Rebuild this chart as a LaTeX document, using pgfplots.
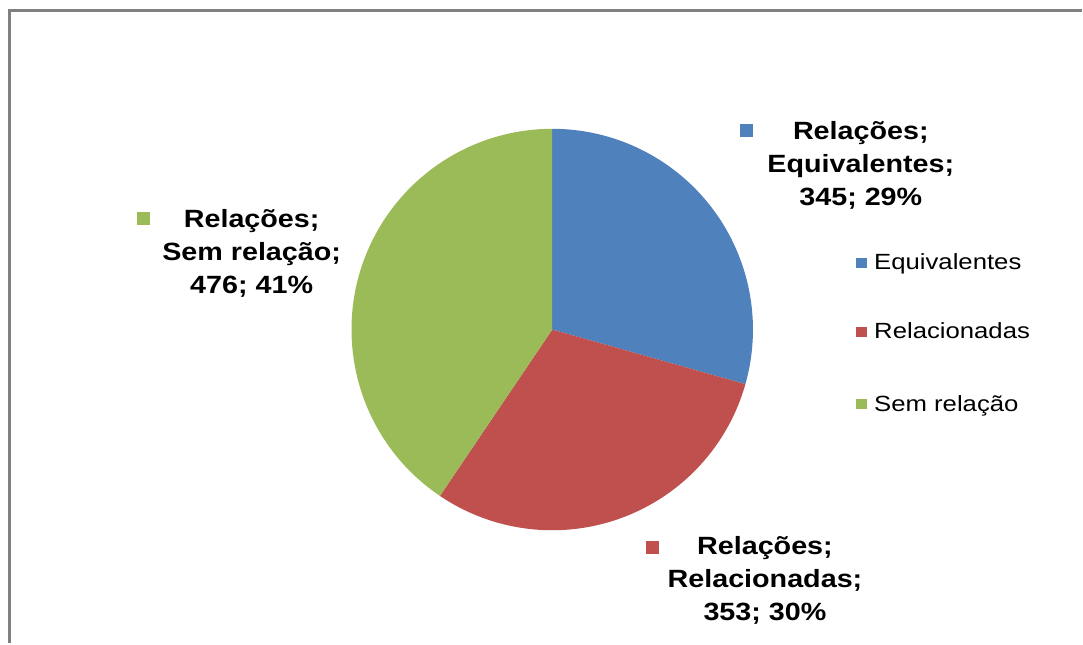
\documentclass[border=0pt]{standalone}
\usepackage{pgfplots}
\usepackage{pgfplotstable}
\usepackage{fontspec}
\pgfplotsset{compat=1.18}
\setmainfont{Liberation Sans}
\newfontfamily\lbl{Liberation Sans}[FakeStretch=1.15]
\newfontfamily\lgd{Liberation Sans}[FakeStretch=1.17]
\definecolor{cEq}{HTML}{4F81BD}
\definecolor{cRe}{HTML}{C0504D}
\definecolor{cSe}{HTML}{9BBB59}
\definecolor{frame}{HTML}{808080}

\pgfplotstableread[col sep=comma]{
label,value
Equivalentes,345
Relacionadas,353
Sem relação,476
}\piedata

\begin{document}
\begin{tikzpicture}
\pgfplotstablegetelem{0}{value}\of\piedata \let\va\pgfplotsretval
\pgfplotstablegetelem{1}{value}\of\piedata \let\vb\pgfplotsretval
\pgfplotstablegetelem{2}{value}\of\piedata \let\vc\pgfplotsretval
\pgfmathsetmacro\tot{\va+\vb+\vc}
\pgfmathsetmacro\aA{90-360*(\va/\tot)}
\pgfmathsetmacro\aB{\aA-360*(\vb/\tot)}
\def\R{100.5pt}
\begin{axis}[
  scale only axis, width=541.5pt, height=322pt,
  xmin=0, xmax=1083, ymin=0, ymax=644, y dir=reverse,
  axis lines=none, clip=false,
]
\fill[white] (axis cs:0,0) rectangle (axis cs:1083,644);
\draw[frame, line width=1.5pt] (axis cs:9.5,644) -- (axis cs:9.5,11) -- (axis cs:1083,11);
% pie
\fill[cEq] (axis cs:553,330) -- ++(90:\R) arc[start angle=90, end angle=\aA, radius=\R] -- cycle;
\fill[cRe] (axis cs:553,330) -- ++(\aA:\R) arc[start angle=\aA, end angle=\aB, radius=\R] -- cycle;
\fill[cSe] (axis cs:553,330) -- ++(\aB:\R) arc[start angle=\aB, end angle=-270, radius=\R] -- cycle;
% data labels
\fill[cEq] (axis cs:741.5,124.5) rectangle (axis cs:754.5,137.5);
\node[align=center, font=\lbl\bfseries\fontsize{12.5}{16.5}\selectfont, inner sep=0] at (axis cs:862,166) {Relações;\\Equivalentes;\\345; 29\%};
\fill[cSe] (axis cs:137.5,212.5) rectangle (axis cs:150.5,225.5);
\node[align=center, font=\lbl\bfseries\fontsize{12.5}{16.5}\selectfont, inner sep=0] at (axis cs:252,254) {Relações;\\Sem relação;\\476; 41\%};
\fill[cRe] (axis cs:646.5,541.5) rectangle (axis cs:659.5,554.5);
\node[align=center, font=\lbl\bfseries\fontsize{12.5}{16.5}\selectfont, inner sep=0] at (axis cs:766,581) {Relações;\\Relacionadas;\\353; 30\%};
% legend
\fill[cEq] (axis cs:857,258) rectangle (axis cs:868,268);
\node[anchor=base west, inner sep=0, font=\lgd\fontsize{11}{12}\selectfont] at (axis cs:875,270) {Equivalentes};
\fill[cRe] (axis cs:857,327) rectangle (axis cs:868,337);
\node[anchor=base west, inner sep=0, font=\lgd\fontsize{11}{12}\selectfont] at (axis cs:875,339) {Relacionadas};
\fill[cSe] (axis cs:857,400) rectangle (axis cs:868,410);
\node[anchor=base west, inner sep=0, font=\lgd\fontsize{11}{12}\selectfont] at (axis cs:875,412) {Sem relação};
\end{axis}
\end{tikzpicture}
\end{document}
